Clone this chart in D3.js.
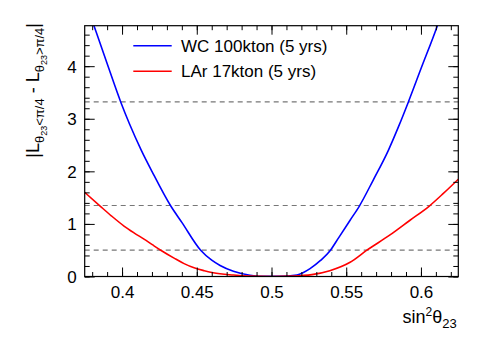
<!DOCTYPE html>
<html>
<head>
<meta charset="utf-8">
<script src="https://cdn.jsdelivr.net/npm/d3@7"></script>
<style>
  body { margin: 0; background: #fff; }
  svg { font-family: "Liberation Sans", Arial, Helvetica, sans-serif; }
</style>
</head>
<body>
<div id="plotDiv"></div>
<script>
// --- data ---
const wc_x = [0.375, 0.3812, 0.390, 0.3991, 0.405, 0.4129, 0.420, 0.4326, 0.440, 0.4526, 0.460, 0.4656,
  0.4745, 0.4856, 0.495, 0.505, 0.517, 0.5258, 0.533, 0.5392, 0.545, 0.5526, 0.5588, 0.568, 0.5782,
  0.585, 0.5916, 0.600, 0.611, 0.615];
const wc_y = [5.28, 4.77, 4.05, 3.32, 2.90, 2.40, 2.00, 1.34, 1.03, 0.50, 0.31, 0.21,
  0.10, 0.025, 0.002, 0.002, 0.03, 0.15, 0.31, 0.49, 0.74, 1.07, 1.34, 1.83, 2.40,
  2.85, 3.32, 3.95, 4.77, 5.10];

const lar_x = [0.375, 0.3857, 0.393, 0.4013, 0.408, 0.4147, 0.4205, 0.4259, 0.4348, 0.4415, 0.4482,
  0.455, 0.461, 0.4745, 0.4856, 0.500, 0.515, 0.527, 0.539, 0.5526, 0.5638, 0.5793, 0.5927,
  0.6056, 0.615, 0.625];
const lar_y = [1.60, 1.33, 1.15, 0.96, 0.83, 0.71, 0.60, 0.50, 0.35, 0.245, 0.165,
  0.11, 0.07, 0.028, 0.008, 0.0, 0.008, 0.035, 0.11, 0.27, 0.50, 0.79, 1.07,
  1.34, 1.58, 1.85];

const ref_levels = [0.5, 1.35, 3.32];
const x_ticks = [0.4, 0.45, 0.5, 0.55, 0.6];
const y_ticks = [0, 1, 2, 3, 4];
const legend_labels = ["WC 100kton (5 yrs)", "LAr 17kton (5 yrs)"];
const legend_colors = ["#0000ff", "#ff0000"];

const margin = {top: 25.7, right: 39.7, bottom: 61.5, left: 84.7};
const W = 498, H = 338;
const width = W - margin.left - margin.right;
const height = H - margin.top - margin.bottom;

const svgc = d3.select("#plotDiv").append("svg")
  .attr("width", W).attr("height", H);

const svg = svgc.append("g")
  .attr("transform", `translate(${margin.left},${margin.top})`);

// --- scales ---
const xScale = d3.scaleLinear().domain([0.375, 0.625]).range([0, width]);
const yScale = d3.scaleLinear().domain([0, 4.77]).range([height, 0]);

svg.append("clipPath").attr("id", "clip")
  .append("rect").attr("width", width).attr("height", height);

// dashed reference lines
svg.selectAll(".ref").data(ref_levels).enter().append("line")
  .attr("x1", 0).attr("x2", width)
  .attr("y1", d => yScale(d)).attr("y2", d => yScale(d))
  .attr("stroke", "#777").attr("stroke-width", 1.2)
  .attr("stroke-dasharray", "5,4");

// curves
const line = d3.line().curve(d3.curveMonotoneX)
  .x(d => xScale(d[0])).y(d => yScale(d[1]));

const series = [
  {xs: wc_x, ys: wc_y, color: legend_colors[0]},
  {xs: lar_x, ys: lar_y, color: legend_colors[1]}
];
series.forEach(s => {
  svg.append("path")
    .datum(s.xs.map((x, i) => [x, s.ys[i]]))
    .attr("clip-path", "url(#clip)")
    .attr("fill", "none")
    .attr("stroke", s.color)
    .attr("stroke-width", 1.6)
    .attr("d", line);
});

// --- axes (ROOT style, ticks inside on all sides) ---
const xMinor = d3.range(0.38, 0.6251, 0.01);
const yMinor = d3.range(0, 4.77, 0.2);

const xAxisB = d3.axisBottom(xScale).tickValues(x_ticks).tickSize(-9).tickFormat(d3.format("~g"));
const xAxisT = d3.axisTop(xScale).tickValues(x_ticks).tickSize(-9).tickFormat("");
const yAxisL = d3.axisLeft(yScale).tickValues(y_ticks).tickSize(-10).tickFormat(d3.format("d"));
const yAxisR = d3.axisRight(yScale).tickValues(y_ticks).tickSize(-10).tickFormat("");

function minor(axis, vals, len) {
  return axis.tickValues(vals).tickSize(len).tickFormat("");
}

const gxb = svg.append("g").attr("transform", `translate(0,${height})`).call(xAxisB);
svg.append("g").attr("transform", `translate(0,${height})`).call(minor(d3.axisBottom(xScale), xMinor, -4.5));
svg.append("g").call(xAxisT);
svg.append("g").call(minor(d3.axisTop(xScale), xMinor, -4.5));
const gyl = svg.append("g").call(yAxisL);
svg.append("g").call(minor(d3.axisLeft(yScale), yMinor, -5));
svg.append("g").attr("transform", `translate(${width},0)`).call(yAxisR);
svg.append("g").attr("transform", `translate(${width},0)`).call(minor(d3.axisRight(yScale), yMinor, -5));

svg.selectAll(".domain").remove();
svg.selectAll(".tick line").attr("stroke", "#000").attr("stroke-width", 1);

gxb.selectAll("text").attr("font-size", "17px").attr("fill", "#000")
  .attr("dy", 0).attr("y", 21.5).attr("dominant-baseline", "auto");
gyl.selectAll("text").attr("font-size", "17px").attr("fill", "#000")
  .attr("x", -8).attr("dy", "0.35em");

// frame
svg.append("rect").attr("width", width).attr("height", height)
  .attr("fill", "none").attr("stroke", "#000").attr("stroke-width", 1.2);

// --- legend ---
const leg = svg.append("g");
legend_labels.forEach((lab, i) => {
  const y = 20 + i * 25.5;
  leg.append("line").attr("x1", 48.6).attr("x2", 87)
    .attr("y1", y).attr("y2", y)
    .attr("stroke", legend_colors[i]).attr("stroke-width", 1.6);
  leg.append("text").attr("x", 96.3).attr("y", y + 6)
    .attr("font-size", "17px").text(lab);
});

// --- axis titles ---
const xt = svgc.append("text")
  .attr("x", 456.7).attr("y", 323.3)
  .attr("text-anchor", "end").attr("font-size", "18px");
xt.append("tspan").text("sin");
xt.append("tspan").attr("font-size", "12px").attr("dy", -7).text("2");
xt.append("tspan").attr("dy", 7).text("θ");
xt.append("tspan").attr("font-size", "13px").attr("dy", 5).text("23");

const yt = svgc.append("text")
  .attr("transform", "translate(39,23) rotate(-90)")
  .attr("text-anchor", "end").attr("font-size", "18px");
yt.append("tspan").text("|L");
yt.append("tspan").attr("font-size", "13px").attr("dy", 5).text("θ");
yt.append("tspan").attr("font-size", "9px").attr("dy", 3).text("23");
yt.append("tspan").attr("font-size", "13px").attr("dy", -3).text("<π/4");
yt.append("tspan").attr("dy", -5).text(" - L");
yt.append("tspan").attr("font-size", "13px").attr("dy", 5).text("θ");
yt.append("tspan").attr("font-size", "9px").attr("dy", 3).text("23");
yt.append("tspan").attr("font-size", "13px").attr("dy", -3).text(">π/4");
yt.append("tspan").attr("dy", -5).text("|");
</script>
</body>
</html>
